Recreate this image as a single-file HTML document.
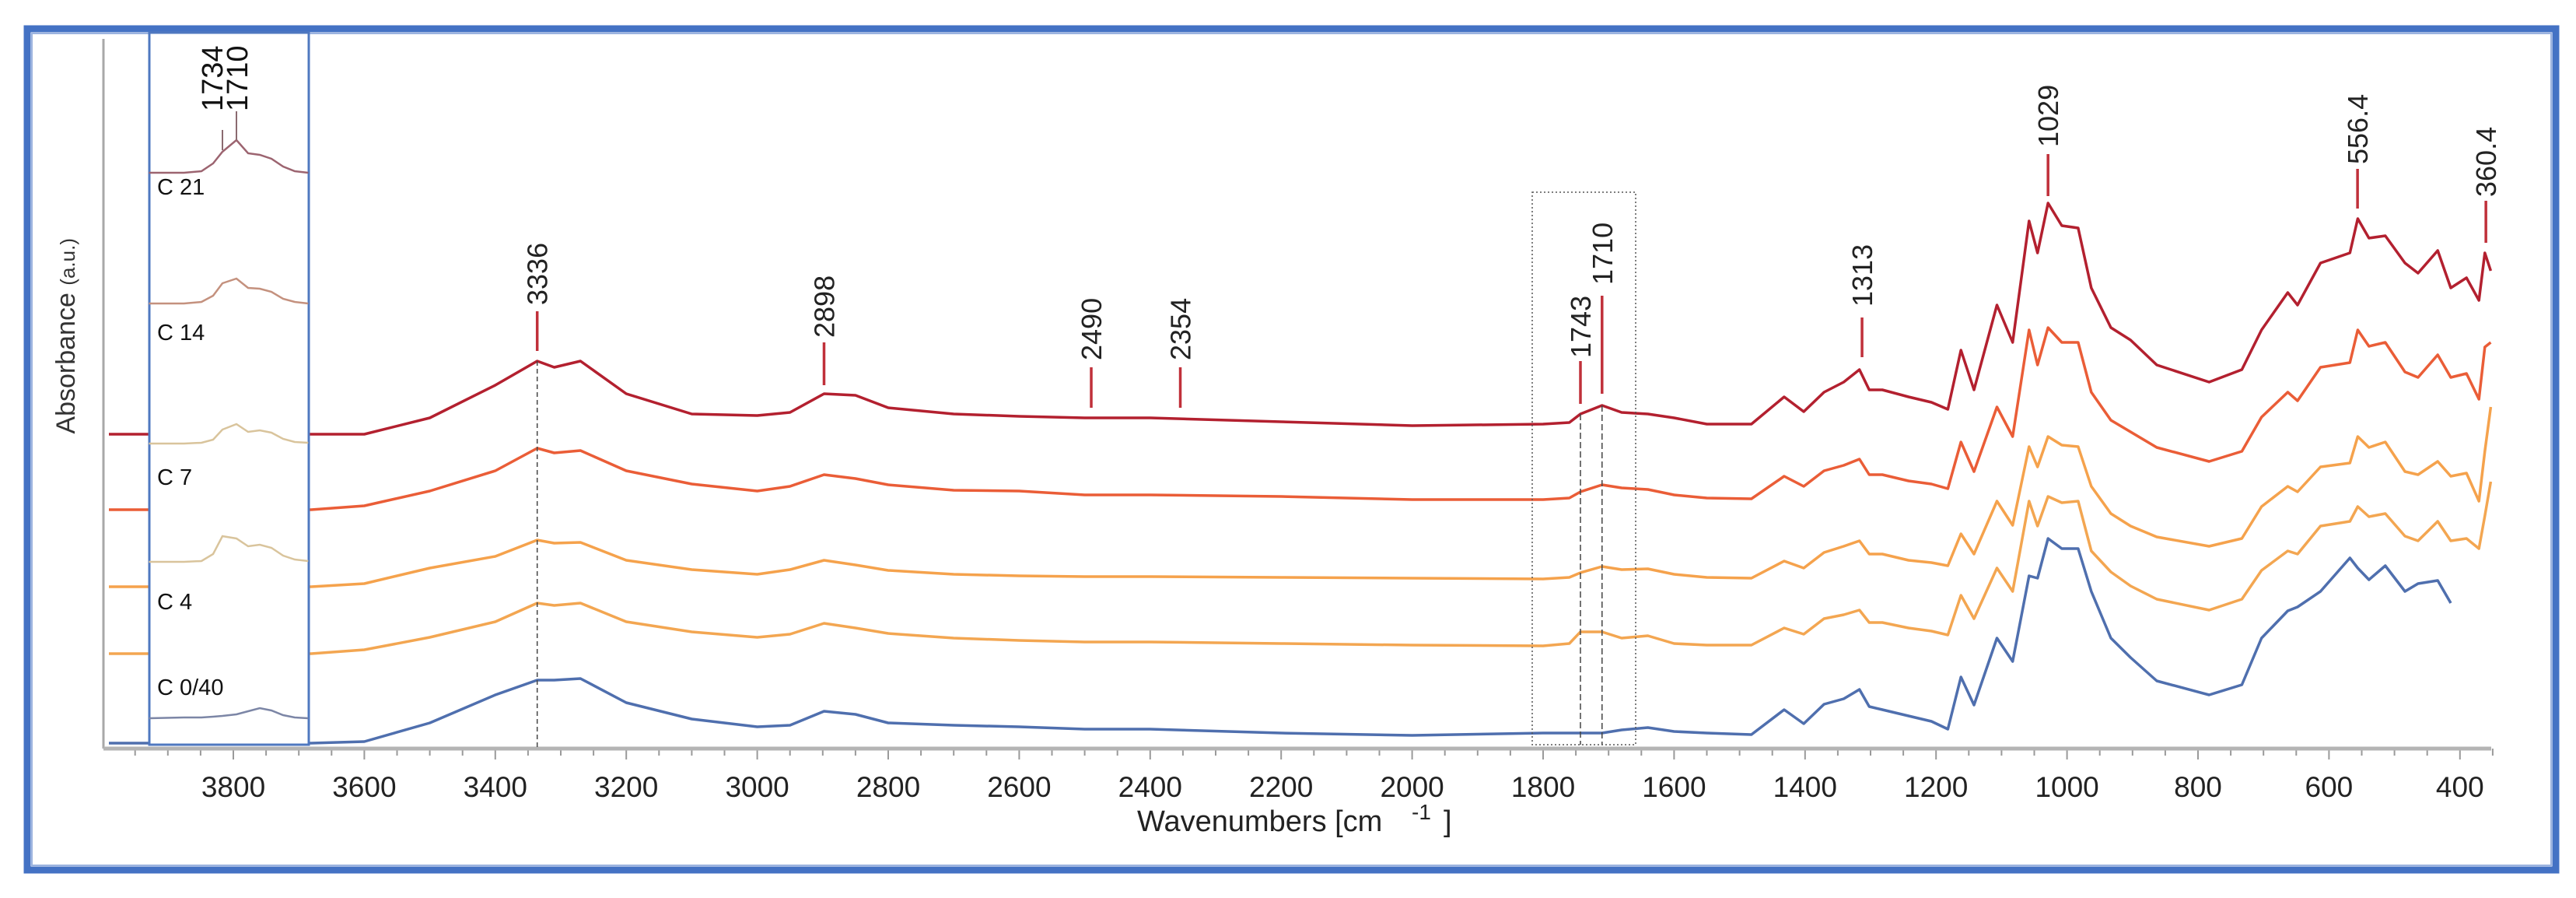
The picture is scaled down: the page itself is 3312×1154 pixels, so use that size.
<!DOCTYPE html>
<html><head><meta charset="utf-8"><style>
html,body{margin:0;padding:0;background:#fff;}
svg{display:block;font-family:"Liberation Sans",sans-serif;}
</style></head><body>
<svg id="chart" width="3312" height="1154" viewBox="0 0 3312 1154" xmlns="http://www.w3.org/2000/svg">
<rect x="0" y="0" width="3312" height="1154" fill="#fff"/>
<rect x="35" y="37" width="3251" height="1081" fill="#fff" stroke="#4472c4" stroke-width="9"/>
<rect x="41" y="43" width="3239" height="1069" fill="none" stroke="#9bb3df" stroke-width="2"/>
<g id="plot"></g>
</svg>
<script>
const wavenumbers=[3990,3800,3681,3600,3500,3400,3336,3310,3270,3200,3100,3000,2950,2898,2850,2800,2700,2600,2500,2400,2200,2000,1800,1760,1743,1710,1680,1640,1600,1550,1482,1432,1402,1371,1341,1317,1302,1282,1242,1207,1182,1162,1142,1107,1083,1058,1045,1029,1008,983,963,933,903,863,783,733,703,663,648,613,568,556,539,514,484,464,434,414,390,371,362,353];
const c21=[402,402,402,402,423,465,496,488,496,454,428,426,430,454,452,436,428,425,423,423,418,413,415,417,428,439,430,428,423,415,415,450,431,456,469,485,459,459,450,443,434,510,459,568,520,676,635,699,670,667,590,539,523,491,469,485,536,584,568,622,635,679,654,657,622,609,638,590,603,574,635,612];
const c14=[305,305,305,310,329,355,384,378,381,355,338,329,335,350,345,337,330,329,324,324,322,318,318,320,328,337,333,331,324,320,319,348,335,355,362,370,350,350,342,338,332,392,354,437,399,536,491,539,520,520,456,420,405,385,367,380,424,456,445,488,494,536,515,520,482,475,504,475,480,447,514,520];
const c7=[206,206,206,210,230,245,266,262,263,240,228,222,228,240,234,227,222,220,219,219,218,217,216,218,224,232,228,229,222,218,217,239,230,250,258,265,248,248,240,237,233,274,248,316,285,386,360,399,388,386,335,300,284,270,258,268,309,335,328,360,365,399,385,392,354,350,367,348,352,316,380,437];
const c4=[120,120,120,125,141,161,185,182,185,161,148,141,145,159,153,146,140,137,135,135,133,131,130,133,148,148,140,143,133,131,131,153,145,165,170,176,160,160,153,149,144,195,165,230,200,316,284,322,314,316,252,225,207,190,176,190,227,252,248,284,290,309,296,300,271,265,290,265,268,255,297,341];
const c0=[5,5,5,7,31,67,86,86,88,57,36,26,28,46,42,31,28,26,23,23,18,15,18,18,18,18,22,25,20,18,16,48,30,55,62,74,52,48,40,33,23,90,54,140,110,220,217,268,255,255,200,140,115,85,67,80,140,175,180,200,243,230,215,233,200,210,214,185,null,null,null,null];
const seriesNames=["C 21","C 14","C 7","C 4","C 0/40"];
const xTicks=[3800,3600,3400,3200,3000,2800,2600,2400,2200,2000,1800,1600,1400,1200,1000,800,600,400];
const peakLabels=["3336","2898","2490","2354","1743","1710","1313","1029","556.4","360.4"];
const peakPositions=[3336,2898,2490,2354,1743,1710,1313,1029,556.4,360.4];
const insetWavenumbers=[1860,1800,1770,1750,1734,1710,1690,1670,1650,1630,1610,1587];
const insetC21=[0,0,2,12,27,42,25,23,18,8,2,0];
const insetC14=[0,0,2,10,26,32,20,19,15,6,2,0];
const insetC7=[0,0,1,5,18,25,15,17,14,6,2,1];
const insetC4=[0,0,1,10,33,30,20,22,18,8,3,1];
const insetC0=[0,1,1,2,3,5,9,13,10,4,1,0];
const insetLabels=["1734","1710"];
const insetLabelPos=[1734,1710];

const NS="http://www.w3.org/2000/svg";
const g=document.getElementById('plot');
function el(tag,attrs,parent){const e=document.createElementNS(NS,tag);for(const k in attrs)e.setAttribute(k,attrs[k]);(parent||g).appendChild(e);return e;}
const X0=133,X1=3203,AXY=962,BASE=960;
function xs(w){return 300+(3800-w)*0.842;}
function ys(v){return BASE-v;}
function pathFrom(xsArr,vals,fx,fy){let d="",pen=false;for(let i=0;i<xsArr.length;i++){if(vals[i]==null){pen=false;continue;}d+=(pen?"L":"M")+fx(xsArr[i]).toFixed(1)+","+fy(vals[i]).toFixed(1);pen=true;}return d;}

// frame
let fl=el('line',{x1:X0,y1:50,x2:X0,y2:AXY,stroke:'#a8a8a8','stroke-width':3});


// x ticks
for(let w=3950;w>=350;w-=50){const major=(w%200===0);const t=el('line',{x1:xs(w),y1:AXY,x2:xs(w),y2:AXY+(major?14:9),stroke:'#9a9a9a','stroke-width':2});

}
xTicks.forEach(w=>{const t=el('text',{x:xs(w),y:1024,'text-anchor':'middle','font-size':37,fill:'#222'});t.textContent=w;

});
let ax=el('line',{x1:X0,y1:AXY,x2:X1,y2:AXY,stroke:'#b4b4b4','stroke-width':5});



// x axis title
let xt=el('text',{x:1462,y:1068,'font-size':38,fill:'#222'});


xt.textContent="Wavenumbers [cm ";
let sup=el('text',{x:1815,y:1053,'font-size':28,fill:'#222'});sup.textContent="-1";


let br=el('text',{x:1856,y:1068,'font-size':38,fill:'#222'});br.textContent="]";



// y axis title
let yt=el('text',{transform:'translate(96,306) rotate(-90)','text-anchor':'end','font-size':34,fill:'#333'});


yt.innerHTML='Absorbance <tspan font-size="26">(a.u.)</tspan>';

// series
const colors=['#b3202f','#ea5d37','#f5a24c','#f3a651','#4f6fae'];
const seriesData=[c21,c14,c7,c4,c0];
seriesData.forEach((vals,i)=>{const p=el('path',{d:pathFrom(wavenumbers,vals,xs,ys),fill:'none',stroke:colors[i],'stroke-width':3.5,'stroke-linejoin':'round'});

});

// dashed guide at 3336
let d1=el('line',{x1:xs(3336),y1:ys(c21[6]),x2:xs(3336),y2:BASE,stroke:'#444','stroke-width':1.5,'stroke-dasharray':'6,4'});


// dotted box
let db=el('rect',{x:1970,y:247,width:133,height:710,fill:'none',stroke:'#555','stroke-width':1.5,'stroke-dasharray':'2,3'});


[1743,1710].forEach(w=>{const l=el('line',{x1:xs(w),y1:ys(c21[w===1743?24:25]),x2:xs(w),y2:957,stroke:'#444','stroke-width':1.5,'stroke-dasharray':'8,4'});

});

// peak labels
const labelBottoms=[392,434,463,463,460,366,394,189,211,253];
const tickTops=[400,440,472,472,464,380,408,198,217,258];
const tickBottoms=[451,495,524,524,519,506,459,252,268,312];
peakPositions.forEach((w,i)=>{const x=xs(w);
const t=el('line',{x1:x,y1:tickTops[i],x2:x,y2:tickBottoms[i],stroke:'#c0303a','stroke-width':3.5});


const tx=el('text',{transform:`translate(${x+13},${labelBottoms[i]}) rotate(-90)`,'font-size':36,fill:'#222'});
tx.textContent=peakLabels[i];

});

// inset
const ig=el('g',{});


el('rect',{x:192,y:42,width:205,height:915,fill:'#fff',stroke:'#4f78c0','stroke-width':3},ig);
function ixs(w){return 304+(1710-w)*0.75;}
const insetSeries=[insetC21,insetC14,insetC7,insetC4,insetC0];
const insetBase=[222,390,570,722,923];
const insetColors=['#9c6470','#c4917e','#d9c49c','#d9c49c','#7c86a6'];
const insetTextY=[250,437,623,783,893];
insetSeries.forEach((vals,i)=>{const p=el('path',{d:pathFrom(insetWavenumbers,vals,ixs,v=>insetBase[i]-v),fill:'none',stroke:insetColors[i],'stroke-width':2.5},ig);


const t=el('text',{x:202,y:insetTextY[i],'font-size':29,fill:'#111','font-family':'"Liberation Sans Narrow","Liberation Sans",sans-serif'},ig);
t.textContent=seriesNames[i];

});
const insetTickTop=[167,143];const insetTickBot=[193,180];const insetLblX=[286,318];
insetLabelPos.forEach((w,i)=>{const l=el('line',{x1:ixs(w),y1:insetTickTop[i],x2:ixs(w),y2:insetTickBot[i],stroke:'#8a6a70','stroke-width':2},ig);


const t=el('text',{transform:`translate(${insetLblX[i]},143) rotate(-90)`,'font-size':38,fill:'#111'},ig);
t.textContent=insetLabels[i];

});
</script>
</body></html>
